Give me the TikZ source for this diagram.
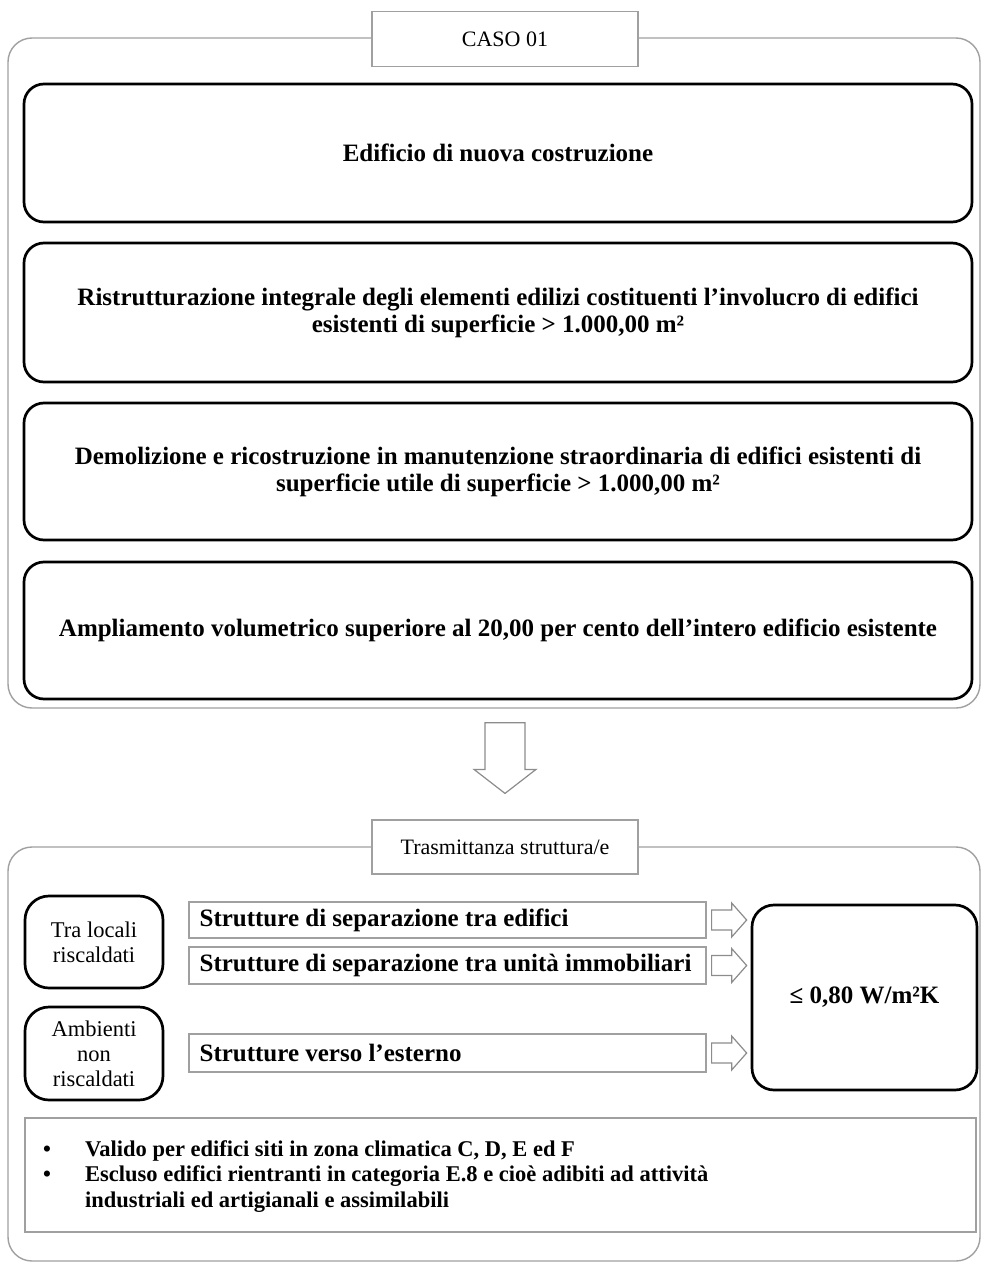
\documentclass[tikz,border=0pt]{standalone}
\usepackage{fontspec}
\setmainfont{Liberation Serif}
\usetikzlibrary{calc}
\definecolor{framegray}{RGB}{160,160,160}
\definecolor{arrowgray}{RGB}{140,140,140}
\begin{document}
\begin{tikzpicture}[x=1pt,y=-1pt,
  frame/.style={draw=framegray, line width=1.4pt, rounded corners=24pt, inner sep=0pt},
  tag/.style={draw=framegray, line width=1.2pt, fill=white, inner sep=0pt,
    font=\fontsize{22}{26}\selectfont},
  casebox/.style={draw=black, line width=2.7pt, rounded corners=20pt, fill=white,
    inner sep=0pt, align=center, font=\fontsize{25}{27}\selectfont\bfseries},
  sidebox/.style={draw=black, line width=2.7pt, rounded corners=24pt, fill=white,
    inner sep=0pt, align=center, font=\fontsize{22.5}{25}\selectfont},
  itembox/.style={draw=framegray, line width=1.2pt, fill=white, inner sep=0pt},
  itemtext/.style={inner sep=0pt, anchor=west, font=\fontsize{25}{27}\selectfont\bfseries},
  harrow/.style={draw=arrowgray, line width=1.2pt, fill=white, line join=miter}
]
\useasboundingbox (0,0) rectangle (984,1268);

% ---------- upper frame: cases ----------
\node[frame, minimum width=972pt, minimum height=670pt] (outer1) at (494,373) {};
\node[tag, minimum width=266pt, minimum height=55pt] (caso) at (505,39) {CASO 01};

\node[casebox, minimum width=948pt, minimum height=138pt] (A) at (498,153)
  {Edificio di nuova costruzione};
\node[casebox, minimum width=948pt, minimum height=139pt] (B) at (498,312.5)
  {Ristrutturazione integrale degli elementi edilizi costituenti l'involucro di edifici\\
   esistenti di superficie > 1.000,00 m²};
\node[casebox, minimum width=948pt, minimum height=137pt] (C) at (498,471.5)
  {Demolizione e ricostruzione in manutenzione straordinaria di edifici esistenti di\\
   superficie utile di superficie > 1.000,00 m²};
\node[casebox, minimum width=948pt, minimum height=137pt] (D) at (498,630.5)
  {Ampliamento volumetrico superiore al 20,00 per cento dell'intero edificio esistente};

% ---------- lower frame: transmittance ----------
\node[frame, minimum width=972pt, minimum height=414pt] (outer2) at (494,1054) {};
\node[tag, minimum width=266pt, minimum height=54pt] (trasm) at (505,847)
  {Trasmittanza struttura/e};

% hollow arrow from the cases to the transmittance frame
\draw[harrow] let \p1=(trasm.north|-outer1.south), \p2=(trasm.north) in
  (\x1-20,\y1-14) -- (\x1-20,\y2+50) -- (\x1-31,\y2+50) -- (\x1,\y2+26)
  -- (\x1+31,\y2+50) -- (\x1+20,\y2+50) -- (\x1+20,\y1-14) -- cycle;

\node[sidebox, minimum width=138pt, minimum height=92pt] (tra) at (94,942)
  {Tra locali\\riscaldati};
\node[sidebox, minimum width=138pt, minimum height=93pt] (amb) at (94,1053.5)
  {Ambienti\\non\\riscaldati};

\node[itembox, minimum width=517pt, minimum height=36pt] (s1) at (447.5,920) {};
\node[itembox, minimum width=517pt, minimum height=37pt] (s2) at (447.5,965.5) {};
\node[itembox, minimum width=517pt, minimum height=38pt] (s3) at (447.5,1053) {};
\node[itemtext] (t1) at ($(s1.west)+(11,0)$) {Strutture di separazione tra edifici};
\node[itemtext] (t2) at ($(s2.west)+(11,0)$) {Strutture di separazione tra unità immobiliari};
\node[itemtext] (t3) at ($(s3.west)+(11,0)$) {Strutture verso l'esterno};

\node[casebox, rounded corners=22pt, minimum width=225pt, minimum height=185pt] (res)
  at (864.5,997.5) {≤ 0,80 W/m²K};

% hollow arrows from each structure to the limit value
\foreach \s in {s1,s2,s3}{
  \draw[harrow] let \p1=($(\s.east)+(5,0)$), \p2=($(res.west|-\s.east)+(-4,0)$) in
    (\x1,\y1-10) -- (\x2-15,\y1-10) -- (\x2-15,\y1-17) -- (\x2,\y1)
    -- (\x2-15,\y1+17) -- (\x2-15,\y1+10) -- (\x1,\y1+10) -- cycle;
}

% notes
\node[itembox, minimum width=951pt, minimum height=114pt] (notes) at (500.5,1175) {};
\node[inner sep=0pt, anchor=base west, font=\fontsize{22.5}{25.5}\selectfont\bfseries] (notetext)
  at (43,1156) {%
  \begin{tabular}[t]{@{}p{42pt}@{}l@{}}
  \textbullet & Valido per edifici siti in zona climatica C, D, E ed F\\
  \textbullet & Escluso edifici rientranti in categoria E.8 e cioè adibiti ad attività\\
              & industriali ed artigianali e assimilabili
  \end{tabular}};
\end{tikzpicture}
\end{document}
